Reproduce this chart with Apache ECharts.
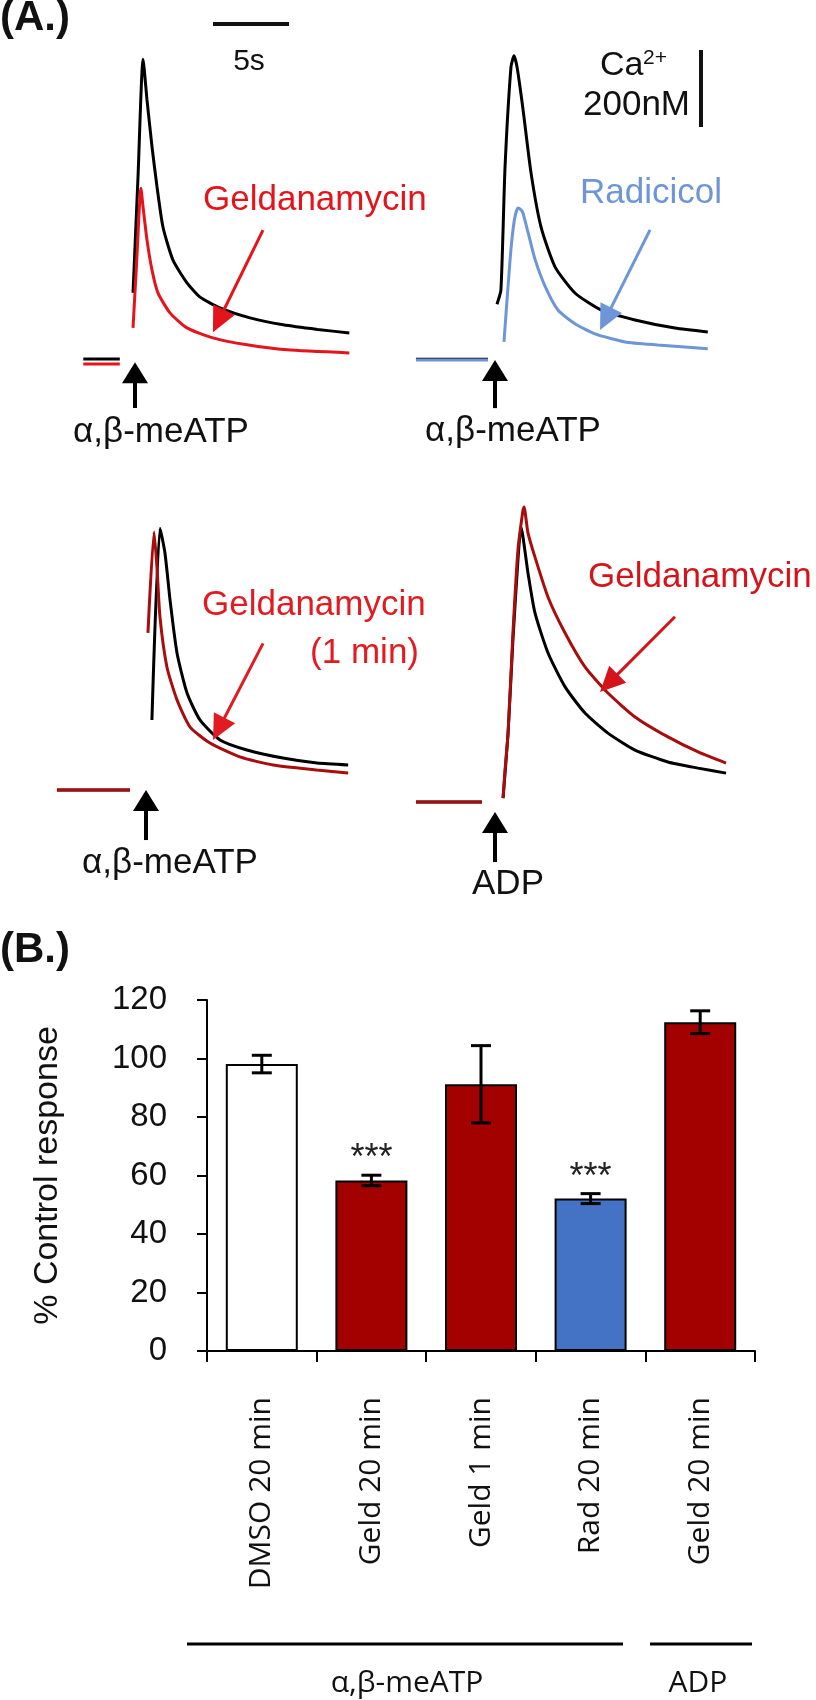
<!DOCTYPE html>
<html><head><meta charset="utf-8">
<script src="https://cdn.jsdelivr.net/npm/echarts@6/dist/echarts.min.js"></script>
<style>html,body{margin:0;padding:0;background:#fff}#c{width:816px;height:1700px}</style>
</head><body><div id="c"></div>
<script>
// ===== Panel A: Ca2+ traces  [time (s) after agonist, Δ[Ca2+] (nM) above baseline] =====
const p1Control = [[-3.4,5],[-1.0,5],[-0.6,null],[-0.13,177],[0.2,480],[0.53,784],[0.79,678],[1.12,556],[1.45,452],[1.84,348],[2.5,262],[3.42,203],[4.28,166],[5.59,138],[7.57,112],[9.74,94],[12.0,82],[14.1,73]];
const p1Geld    = [[-3.4,-8],[-1.0,-8],[-0.6,null],[-0.13,86],[0.1,250],[0.39,449],[0.53,400],[0.79,314],[1.12,236],[1.51,177],[2.3,125],[3.42,86],[5.13,60],[7.37,42],[10.0,29],[14.1,21]];
const p2Control = [[-5.2,2],[-0.46,2],[-0.2,null],[0.13,145],[0.39,182],[0.66,501],[1.05,761],[1.25,790],[1.45,761],[1.84,652],[2.37,486],[3.03,345],[3.95,242],[5.26,174],[6.97,130],[9.21,104],[11.84,83],[14.0,73]];
const p2Rad     = [[-5.2,0],[-0.46,0],[-0.2,null],[0.59,47],[0.99,260],[1.25,358],[1.51,395],[1.71,390],[1.84,382],[2.17,332],[2.63,262],[3.29,192],[4.14,130],[5.26,94],[6.58,68],[8.55,47],[10.7,39],[14.0,29]];
const p3Control = [[-5.86,0],[-1.05,0],[-0.6,null],[0.39,182],[0.92,680],[1.25,615],[1.58,494],[2.04,356],[2.7,252],[3.55,182],[4.87,130],[6.64,104],[9.01,83],[11.25,70],[13.3,65]];
const p3Geld1   = [[-5.86,0],[-1.05,0],[-0.6,null],[0.13,408],[0.53,670],[0.72,579],[0.92,449],[1.38,319],[2.04,234],[2.89,164],[4.21,122],[6.18,86],[8.36,65],[11.25,52],[13.3,44]];
const p4Control = [[-5.2,0],[-0.86,0],[-0.5,null],[0.53,10],[0.86,179],[1.18,421],[1.51,629],[1.71,714],[2.17,595],[2.63,491],[3.49,387],[4.61,299],[5.92,231],[7.43,179],[9.21,135],[11.38,104],[13.36,88],[15.2,75]];
const p4Geld    = [[-5.2,0],[-0.86,0],[-0.5,null],[0.53,10],[0.66,83],[0.86,179],[1.18,439],[1.51,655],[1.84,758],[1.91,766],[2.17,699],[2.63,636],[3.49,532],[4.61,439],[5.92,351],[7.43,283],[9.21,221],[11.38,169],[13.36,130],[15.2,101]];
// agonist arrows [t0, c0, t1(tip), c1(tip)]
const p1Stim = [[0,-122,0,-3]];
const p2Stim = [[0,-125,0,0]];
const p3Stim = [[0,-130,0,0]];
const p4Stim = [[0,-156,0,-26]];
// annotation arrows [t0, c0, t1(tip), c1(tip)]
const p1Note = [[8.42,340,5.13,75]];
const p2Note = [[10.2,338,6.91,78]];
const p3Note = [[7.7,381,4.41,130]];
const p4Note = [[11.84,481,6.91,286]];

// ===== Panel B: bar chart =====
const categories   = ['DMSO 20 min','Geld 20 min','Geld 1 min','Rad 20 min','Geld 20 min'];
const responseMean = [98.1, 58.3, 91.2, 52.1, 112.4];
const responseSEM  = [3.0, 1.8, 13.2, 1.7, 3.9];
const significance = ['', '***', '', '***', ''];
const yMin = 0, yMax = 120, yStep = 20;
const groupLabels  = ['α,β-meATP', 'ADP'];

// ---- styles / layout ----
const barFill = ['#ffffff','#a30000','#a30000','#4472c4','#a30000'];
const PX_PER_S = 15.2, PX_PER_NM = 0.385;
const T_MIN = -7, T_MAX = 17, C_MIN = -200, C_MAX = 900;
const SANS = '"Liberation Sans", Arial, sans-serif';
const OPEN = '"Open Sans", "Liberation Sans", sans-serif';

const panels = [
  {origin:[135,361], traces:[{d:p1Control,c:'#000'},{d:p1Geld,c:'#e3141b'}], stim:p1Stim, note:p1Note, noteColor:'#e3141b'},
  {origin:[495,360], traces:[{d:p2Control,c:'#000'},{d:p2Rad,c:'#6d95d8'}], stim:p2Stim, note:p2Note, noteColor:'#6d95d8'},
  {origin:[146,790], traces:[{d:p3Control,c:'#000'},{d:p3Geld1,c:'#a80c0c'}], stim:p3Stim, note:p3Note, noteColor:'#e01b22'},
  {origin:[495,802], traces:[{d:p4Control,c:'#000'},{d:p4Geld,c:'#a80c0c'}], stim:p4Stim, note:p4Note, noteColor:'#d4141a'}
];

function arrowRender(color, shaftW, headL, headW){
  return function(params, api){
    const a = api.coord([api.value(0), api.value(1)]);
    const b = api.coord([api.value(2), api.value(3)]);
    const dx = b[0]-a[0], dy = b[1]-a[1], len = Math.hypot(dx,dy);
    const ux = dx/len, uy = dy/len, px = -uy, py = ux;
    const bx = b[0]-ux*headL, by = b[1]-uy*headL;
    return {type:'group', children:[
      {type:'line', shape:{x1:a[0],y1:a[1],x2:bx+ux*2,y2:by+uy*2}, style:{stroke:color,lineWidth:shaftW}},
      {type:'polygon', shape:{points:[[b[0],b[1]],[bx+px*headW/2,by+py*headW/2],[bx-px*headW/2,by-py*headW/2]]}, style:{fill:color}}
    ]};
  };
}

const grids=[], xAxes=[], yAxes=[], series=[];
panels.forEach((p,i)=>{
  grids.push({left:p.origin[0]+T_MIN*PX_PER_S, top:p.origin[1]-C_MAX*PX_PER_NM,
    width:(T_MAX-T_MIN)*PX_PER_S, height:(C_MAX-C_MIN)*PX_PER_NM, outerBoundsMode:'none'});
  xAxes.push({gridIndex:i, type:'value', min:T_MIN, max:T_MAX, show:false});
  yAxes.push({gridIndex:i, type:'value', min:C_MIN, max:C_MAX, show:false});
  p.traces.forEach((tr,k)=>series.push({type:'line', xAxisIndex:i, yAxisIndex:i, data:tr.d,
    symbol:'none', smooth:0.2, connectNulls:false, lineStyle:{color:tr.c, width:3}, z:2+k, silent:true}));
  series.push({type:'custom', xAxisIndex:i, yAxisIndex:i, data:p.stim, encode:{x:[0,2],y:[1,3]},
    renderItem:arrowRender('#000',4,21,26), z:5, silent:true});
  series.push({type:'custom', xAxisIndex:i, yAxisIndex:i, data:p.note, encode:{x:[0,2],y:[1,3]},
    renderItem:arrowRender(p.noteColor,3,25,24), z:5, silent:true});
});

// bar chart grid
const BG = panels.length;
grids.push({left:207, top:1000, width:548, height:351, outerBoundsMode:'none'});
xAxes.push({gridIndex:BG, type:'category', data:categories, boundaryGap:true,
  axisLine:{show:true, lineStyle:{color:'#000', width:2}},
  axisTick:{show:true, inside:false, length:11, alignWithLabel:false, lineStyle:{color:'#000', width:2}},
  axisLabel:{rotate:90, margin:46, fontFamily:OPEN, fontSize:30, color:'#111', interval:0},
  splitLine:{show:false}});
yAxes.push({gridIndex:BG, type:'value', min:yMin, max:yMax, interval:yStep,
  axisLine:{show:true, lineStyle:{color:'#000', width:2}},
  axisTick:{show:true, inside:false, length:10, lineStyle:{color:'#000', width:2}},
  axisLabel:{fontFamily:SANS, fontSize:33, color:'#111', margin:40},
  splitLine:{show:false},
  name:'% Control response', nameLocation:'middle', nameGap:142, nameRotate:90,
  nameTextStyle:{fontFamily:SANS, fontSize:34, color:'#111'}});

series.push({type:'bar', xAxisIndex:BG, yAxisIndex:BG, barWidth:72,
  data:responseMean.map((v,i)=>({value:v, itemStyle:{color:barFill[i]}})),
  itemStyle:{borderColor:'#000', borderWidth:2}, silent:true, z:2});

series.push({type:'custom', xAxisIndex:BG, yAxisIndex:BG,
  data:responseMean.map((v,i)=>[i, v, responseSEM[i]]), encode:{x:0, y:1}, z:6, silent:true,
  renderItem:function(params, api){
    const i=api.value(0), m=api.value(1), e=api.value(2);
    const t=api.coord([i,m+e]), b=api.coord([i,m-e]), cap=10;
    const st={stroke:'#000', lineWidth:3};
    const ch=[
      {type:'line', shape:{x1:t[0],y1:t[1],x2:b[0],y2:b[1]}, style:st},
      {type:'line', shape:{x1:t[0]-cap,y1:t[1],x2:t[0]+cap,y2:t[1]}, style:st},
      {type:'line', shape:{x1:b[0]-cap,y1:b[1],x2:b[0]+cap,y2:b[1]}, style:st}
    ];
    const s=significance[params.dataIndex];
    if(s) ch.push({type:'text', style:{text:s, x:t[0], y:t[1]+2, textAlign:'center', textVerticalAlign:'bottom',
      font:'36px '+SANS, fill:'#222'}});
    return {type:'group', children:ch};
  }});

function txt(text,x,y,size,color,align,extra){
  return Object.assign({type:'text', x:x, y:y, silent:true, style:{text:text, font:size+'px '+SANS, fill:color||'#111',
    textAlign:align||'left', textVerticalAlign:'middle'}}, extra||{});
}
const graphic = [
  txt('(A.)',0,18,42,'#111','left',{style:{text:'(A.)', font:'bold 42px '+SANS, fill:'#111', textAlign:'left', textVerticalAlign:'middle'}}),
  txt('(B.)',0,950,42,'#111','left',{style:{text:'(B.)', font:'bold 42px '+SANS, fill:'#111', textAlign:'left', textVerticalAlign:'middle'}}),
  // scale bars
  {type:'line', silent:true, shape:{x1:213,y1:24,x2:289,y2:24}, style:{stroke:'#111', lineWidth:4}},
  txt('5s',249,62,30,'#111','center'),
  {type:'line', silent:true, shape:{x1:701,y1:50,x2:701,y2:127}, style:{stroke:'#111', lineWidth:4}},
  txt('Ca',600,66,34,'#111','left'),
  txt('2+',643,58,21,'#111','left'),
  txt('200nM',690,105,35,'#111','right'),
  // annotations
  txt('Geldanamycin',203,200,35,'#e3141b','left'),
  txt('Radicicol',580,193,35,'#6d95d8','left'),
  txt('Geldanamycin',202,605,35,'#e01b22','left'),
  txt('(1 min)',419,653,35,'#e01b22','right'),
  txt('Geldanamycin',588,577,35,'#d4141a','left'),
  // agonist labels
  txt('α,β-meATP',161,432,35,'#111','center'),
  txt('α,β-meATP',513,431,35,'#111','center'),
  txt('α,β-meATP',170,863,35,'#111','center'),
  txt('ADP',508,884,35,'#111','center'),
  // bar-chart group lines
  {type:'line', silent:true, shape:{x1:187,y1:1644,x2:623,y2:1644}, style:{stroke:'#000', lineWidth:3}},
  {type:'line', silent:true, shape:{x1:650,y1:1644,x2:752,y2:1644}, style:{stroke:'#000', lineWidth:3}},
  {type:'text', x:407, y:1683, silent:true, style:{text:groupLabels[0], font:'30px '+OPEN, fill:'#111', textAlign:'center', textVerticalAlign:'middle'}},
  {type:'text', x:698, y:1683, silent:true, style:{text:groupLabels[1], font:'30px '+OPEN, fill:'#111', textAlign:'center', textVerticalAlign:'middle'}}
];

const chart = echarts.init(document.getElementById('c'), null, {renderer:'canvas'});
chart.setOption({animation:false, backgroundColor:'#fff', grid:grids, xAxis:xAxes, yAxis:yAxes, series:series, graphic:graphic});
</script></body></html>
